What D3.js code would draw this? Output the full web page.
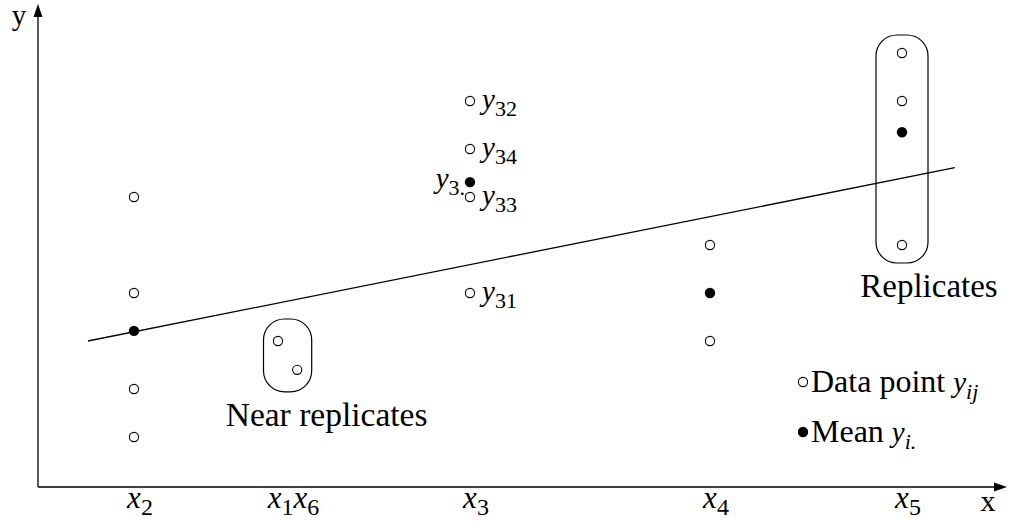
<!DOCTYPE html>
<html>
<head>
<meta charset="utf-8">
<script src="https://cdn.jsdelivr.net/npm/d3@7"></script>
<style>
  body { margin: 0; background: #fff; }
  svg text { font-family: "Liberation Serif", "Times New Roman", serif; fill: #000; }
  .math { font-style: italic; }
</style>
</head>
<body>
<div id="chart"></div>
<script>
// groups of replicates: x position and observed y values
var groupX = [1.0, 4.5, 7.0, 9.0];          // x2, x3, x4, x5
var groupY = [[6, 4, 2, 1], [8, 7, 6, 4], [5, 3], [9, 8, 5]];
var groupMean = [3.21, 6.31, 4.0, 7.35];    // filled dots

// near replicates at x1, x6
var nearX = [2.5, 2.7];
var nearY = [3.0, 2.4];

// labels of the x3 group
var x3Values = [8, 7, 6, 4];
var x3Subs = ['32', '34', '33', '31'];

// fitted line end points
var fitX = [0.52, 9.55];
var fitY = [3.0, 6.61];

// tick labels on the x axis
var tickX = [1.0, 2.6, 4.5, 7.0, 9.0];
var tickSubs = [['2'], ['1', '6'], ['3'], ['4'], ['5']];

var width = 1014, height = 521;

var x = d3.scaleLinear().domain([0, 10]).range([38, 998]);
var y = d3.scaleLinear().domain([0, 10]).range([485, 5]);

var svg = d3.select('#chart').append('svg')
  .attr('width', width)
  .attr('height', height);

var ox = 38, oy = 487;

// axes with arrow heads
svg.append('line')
  .attr('x1', ox).attr('y1', oy).attr('x2', 996).attr('y2', oy)
  .attr('stroke', '#000').attr('stroke-width', 1.3);
svg.append('path')
  .attr('d', 'M1007,' + oy + 'L994,' + (oy - 4.5) + 'L994,' + (oy + 4.5) + 'Z')
  .attr('fill', '#000');
svg.append('line')
  .attr('x1', ox).attr('y1', oy).attr('x2', ox).attr('y2', 15)
  .attr('stroke', '#000').attr('stroke-width', 1.3);
svg.append('path')
  .attr('d', 'M' + ox + ',4L' + (ox - 4.5) + ',17L' + (ox + 4.5) + ',17Z')
  .attr('fill', '#000');

svg.append('text')
  .attr('x', 19).attr('y', 25)
  .attr('text-anchor', 'middle')
  .style('font-size', '29px')
  .text('y');
svg.append('text')
  .attr('x', 988).attr('y', 511)
  .attr('text-anchor', 'middle')
  .style('font-size', '30px')
  .text('x');

// math text: italic base letter with a subscript
function mathLabel(sel, base, subs, size, subItalic) {
  subs.forEach(function(s, i) {
    sel.append('tspan')
      .attr('class', 'math')
      .attr('dy', i === 0 ? 0 : -7)
      .style('font-size', size + 'px')
      .text(base);
    sel.append('tspan')
      .attr('class', subItalic ? 'math' : null)
      .attr('dy', 7)
      .style('font-size', Math.round(size * 0.76) + 'px')
      .text(s);
  });
}

svg.selectAll('text.tick')
  .data(tickX)
  .enter().append('text')
  .attr('class', 'tick')
  .attr('x', function(d) { return x(d) + 6; })
  .attr('y', 508)
  .attr('text-anchor', 'middle')
  .each(function(d, i) { mathLabel(d3.select(this), 'x', tickSubs[i], 31); });

// fitted line
svg.append('line')
  .attr('x1', x(fitX[0])).attr('y1', y(fitY[0]))
  .attr('x2', x(fitX[1])).attr('y2', y(fitY[1]))
  .attr('stroke', '#000').attr('stroke-width', 1.3);

// boxes round near replicates and replicates
function box(xs, ys, px, py) {
  var x0 = x(d3.min(xs)) - px, x1 = x(d3.max(xs)) + px;
  var y0 = y(d3.max(ys)) - py, y1 = y(d3.min(ys)) + py;
  svg.append('rect')
    .attr('x', x0).attr('y', y0)
    .attr('width', x1 - x0).attr('height', y1 - y0)
    .attr('rx', 21).attr('ry', 21)
    .attr('fill', 'none').attr('stroke', '#000').attr('stroke-width', 1.2);
  return { cx: (x0 + x1) / 2, bottom: y1 };
}

var nearBox = box(nearX, nearY, 14.5, 22);
svg.append('text')
  .attr('x', nearBox.cx + 39).attr('y', nearBox.bottom + 34)
  .attr('text-anchor', 'middle')
  .style('font-size', '33.5px')
  .text('Near replicates');

var repBox = box([groupX[3]], groupY[3], 26, 18);
svg.append('text')
  .attr('x', repBox.cx + 27).attr('y', repBox.bottom + 34)
  .attr('text-anchor', 'middle')
  .style('font-size', '33px')
  .text('Replicates');

// data points
var points = [];
groupX.forEach(function(gx, i) {
  groupY[i].forEach(function(v) { points.push({ x: gx, y: v }); });
});
nearX.forEach(function(nx, i) { points.push({ x: nx, y: nearY[i] }); });

svg.selectAll('circle.obs')
  .data(points)
  .enter().append('circle')
  .attr('class', 'obs')
  .attr('cx', function(d) { return x(d.x); })
  .attr('cy', function(d) { return y(d.y); })
  .attr('r', 4.6)
  .attr('fill', '#fff')
  .attr('stroke', '#000')
  .attr('stroke-width', 1.1);

svg.selectAll('circle.mean')
  .data(groupMean)
  .enter().append('circle')
  .attr('class', 'mean')
  .attr('cx', function(d, i) { return x(groupX[i]); })
  .attr('cy', function(d) { return y(d); })
  .attr('r', 5.2)
  .attr('fill', '#000');

// labels of the x3 group
svg.selectAll('text.obs-label')
  .data(x3Values)
  .enter().append('text')
  .attr('class', 'obs-label')
  .attr('x', x(groupX[1]) + 12)
  .attr('y', function(d) { return y(d) + 8; })
  .each(function(d, i) { mathLabel(d3.select(this), 'y', [x3Subs[i]], 29); });

svg.append('text')
  .attr('x', x(groupX[1]) - 5)
  .attr('y', y(groupMean[1]) + 6)
  .attr('text-anchor', 'end')
  .each(function() { mathLabel(d3.select(this), 'y', ['3.'], 29); });

// legend
var legend = svg.append('g').attr('transform', 'translate(803, 382)');
legend.append('circle')
  .attr('r', 4.6).attr('fill', '#fff')
  .attr('stroke', '#000').attr('stroke-width', 1.1);
var t1 = legend.append('text')
  .attr('x', 8).attr('y', 10)
  .style('font-size', '32px');
t1.append('tspan').text('Data point ');
mathLabel(t1, 'y', ['ij'], 29, true);

legend.append('circle')
  .attr('cy', 50)
  .attr('r', 5.2).attr('fill', '#000');
var t2 = legend.append('text')
  .attr('x', 8).attr('y', 60)
  .style('font-size', '32px');
t2.append('tspan').text('Mean ');
mathLabel(t2, 'y', ['i.'], 29, true);
</script>
</body>
</html>
